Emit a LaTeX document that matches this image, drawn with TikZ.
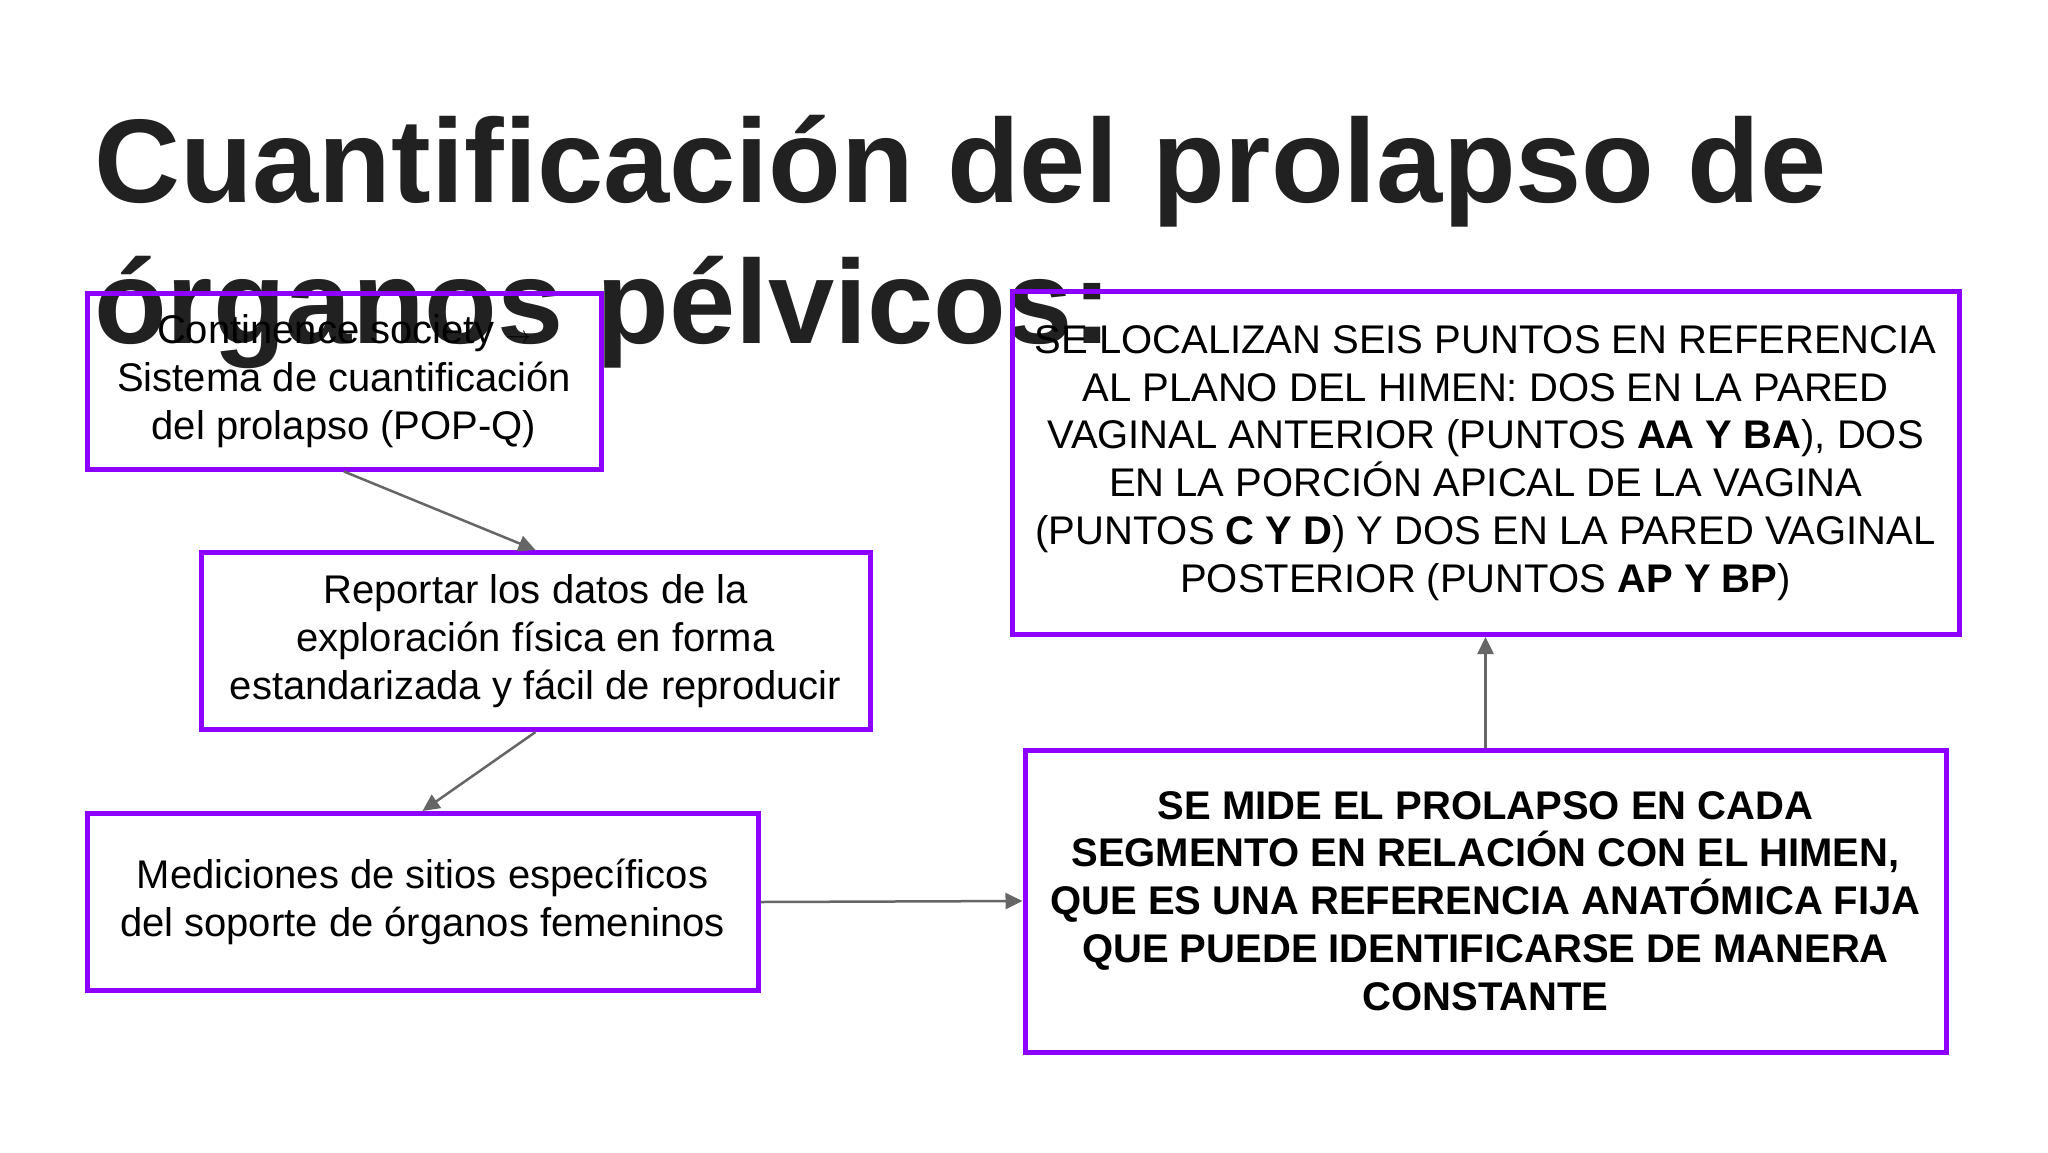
\documentclass[tikz,border=0pt]{standalone}
\usepackage{fontspec}
\setmainfont{Liberation Sans}
\usetikzlibrary{arrows.meta}
\definecolor{purp}{RGB}{140,0,255}
\definecolor{arrgray}{RGB}{102,102,102}
\definecolor{titlegray}{RGB}{33,33,33}
\tikzset{
  pbox/.style={draw=purp, line width=5pt, inner sep=0pt, align=center,
    font=\fontsize{40}{47.8}\selectfont},
  titleline/.style={anchor=base west, inner sep=0pt, text=titlegray,
    font=\fontsize{119}{141}\selectfont\bfseries},
  conn/.style={draw=arrgray, line width=2.5pt, -{Triangle[length=17pt,width=16pt]}}
}
\begin{document}
\begin{tikzpicture}[x=1pt,y=-1pt]
\useasboundingbox[fill=white] (0,0) rectangle (2048,1152);
\node[titleline] (t1) at (94,202) {Cuantificación del prolapso de};
\node[titleline] (t2) at (94,343) {órganos pélvicos:};

\node[pbox, minimum width=514pt, minimum height=176pt] (b1) at (344,381)
  {Continence society $\rightarrow$\\Sistema de cuantificación\\del prolapso (POP-Q)};
\node[pbox, minimum width=669pt, minimum height=177pt] (b2) at (535.5,641)
  {Reportar los datos de la\\exploración física en forma\\estandarizada y fácil de reproducir};
\node[pbox, minimum width=671pt, minimum height=177pt] (b3) at (422.5,902)
  {Mediciones de sitios específicos\\del soporte de órganos femeninos};
\node[pbox, minimum width=921pt, minimum height=302pt] (b4) at (1485.5,901)
  {\bfseries SE MIDE EL PROLAPSO EN CADA\\\bfseries SEGMENTO EN RELACIÓN CON EL HIMEN,\\\bfseries QUE ES UNA REFERENCIA ANATÓMICA FIJA\\\bfseries QUE PUEDE IDENTIFICARSE DE MANERA\\\bfseries CONSTANTE};
\node[pbox, minimum width=947pt, minimum height=343pt] (b5) at (1485.5,463)
  {SE LOCALIZAN SEIS PUNTOS EN REFERENCIA\\AL PLANO DEL HIMEN: DOS EN LA PARED\\VAGINAL ANTERIOR (PUNTOS \textbf{AA Y BA}), DOS\\EN LA PORCIÓN APICAL DE LA VAGINA\\(PUNTOS \textbf{C Y D}) Y DOS EN LA PARED VAGINAL\\POSTERIOR (PUNTOS \textbf{AP Y BP})};

\draw[conn] (b1.south) -- (b2.north);
\draw[conn] (b2.south) -- (b3.north);
\draw[conn] (b3.east) -- (b4.west);
\draw[conn] (b4.north) -- (b5.south);
\end{tikzpicture}
\end{document}
